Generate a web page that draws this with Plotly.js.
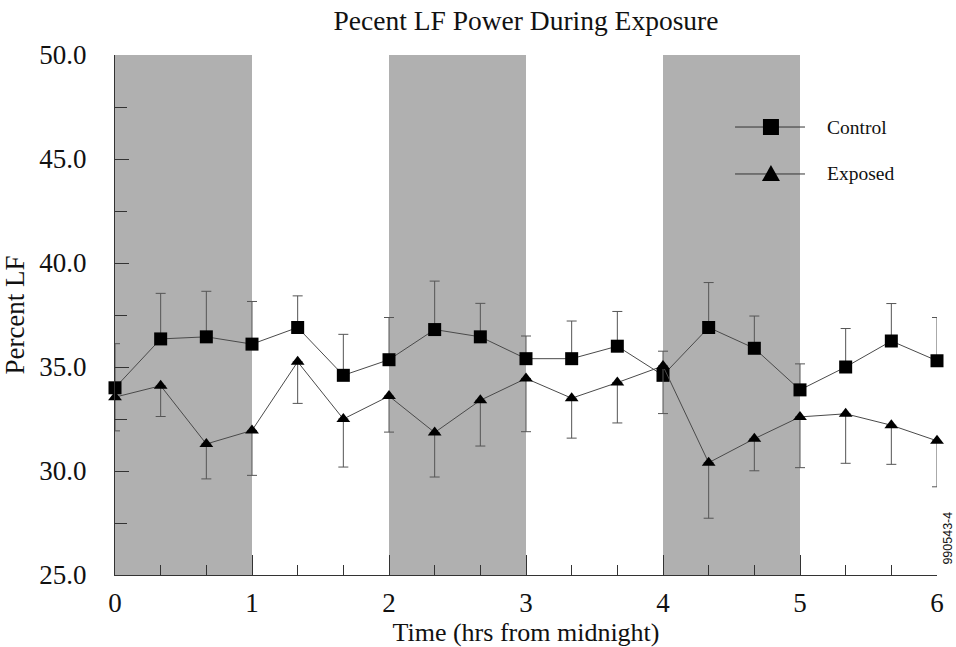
<!DOCTYPE html>
<html>
<head>
<meta charset="utf-8">
<script src="https://cdn.plot.ly/plotly-3.0.1.min.js"></script>
<style>html,body{margin:0;padding:0;background:#fff;}#chart{width:956px;height:647px;}</style>
</head>
<body>
<div id="chart"></div>
<script>
// Data
var timeHrs = [0, 1/3, 2/3, 1, 4/3, 5/3, 2, 7/3, 8/3, 3, 10/3, 11/3, 4, 13/3, 14/3, 5, 16/3, 17/3, 6];
var controlLF = [34.0, 36.35, 36.45, 36.1, 36.9, 34.6, 35.35, 36.8, 36.45, 35.4, 35.4, 36.0, 34.6, 36.9, 35.9, 33.9, 35.0, 36.25, 35.3];
var controlErrUp = [2.12, 2.19, 2.19, 2.05, 1.52, 1.97, 2.03, 2.33, 1.61, 1.09, 1.81, 1.67, 1.16, 2.16, 1.55, 1.25, 1.85, 1.80, 2.08];
var exposedLF = [33.55, 34.1, 31.3, 31.95, 35.25, 32.5, 33.6, 31.85, 33.4, 34.45, 33.5, 34.25, 35.05, 30.4, 31.55, 32.6, 32.75, 32.2, 31.45];
var exposedErrDown = [1.62, 1.48, 1.68, 2.16, 2.0, 2.31, 1.73, 2.14, 2.2, 2.56, 1.92, 1.94, 2.29, 2.67, 1.54, 2.44, 2.38, 1.88, 2.21];
var exposureStart = [0, 2, 4];
var exposureEnd = [1, 3, 5];
var seriesNames = ["Control", "Exposed"];

var zeros = timeHrs.map(function(){return 0;});
var serif = "Liberation Serif, Times New Roman, serif";

var traces = [
  {
    x: timeHrs, y: controlLF, type: "scatter", mode: "lines+markers", name: seriesNames[0],
    line: {color: "#4a4a4a", width: 1},
    marker: {symbol: "square", size: 13, color: "#000"},
    error_y: {type: "data", symmetric: false, array: controlErrUp, arrayminus: zeros, color: "#555", thickness: 1, width: 5},
    cliponaxis: false, showlegend: false
  },
  {
    x: timeHrs, y: exposedLF, type: "scatter", mode: "lines+markers", name: seriesNames[1],
    line: {color: "#4a4a4a", width: 1},
    marker: {symbol: "triangle-up", size: 12, color: "#000"},
    error_y: {type: "data", symmetric: false, array: zeros, arrayminus: exposedErrDown, color: "#555", thickness: 1, width: 5},
    cliponaxis: false, showlegend: false
  }
];

var shapes = [];
for (var i = 0; i < exposureStart.length; i++) {
  shapes.push({type: "rect", xref: "x", yref: "paper", x0: exposureStart[i], x1: exposureEnd[i], y0: 0, y1: 1,
    fillcolor: "#b0b0b0", line: {width: 0}, layer: "below"});
}
// custom legend
var legY = [0.8615, 0.7712];
shapes.push({type: "line", xref: "paper", yref: "paper", x0: 0.7543, x1: 0.8394, y0: legY[0], y1: legY[0], line: {color: "#333", width: 1}});
shapes.push({type: "line", xref: "paper", yref: "paper", x0: 0.7543, x1: 0.8394, y0: legY[1], y1: legY[1], line: {color: "#333", width: 1}});
shapes.push({type: "rect", xref: "paper", yref: "paper", xsizemode: "pixel", ysizemode: "pixel", xanchor: 0.798, yanchor: legY[0],
  x0: -8, x1: 8, y0: -8, y1: 8, fillcolor: "#000", line: {width: 0}});
shapes.push({type: "path", xref: "paper", yref: "paper", xsizemode: "pixel", ysizemode: "pixel", xanchor: 0.798, yanchor: legY[1],
  path: "M -9 -7 L 9 -7 L 0 9 Z", fillcolor: "#000", line: {width: 0}});

var annotations = [
  {xref: "paper", yref: "paper", x: 0.8637, y: legY[0], xanchor: "left", yanchor: "middle", text: seriesNames[0], showarrow: false,
    font: {family: serif, size: 19.5, color: "#111"}},
  {xref: "paper", yref: "paper", x: 0.8637, y: legY[1], xanchor: "left", yanchor: "middle", text: seriesNames[1], showarrow: false,
    font: {family: serif, size: 19.5, color: "#111"}},
  {xref: "paper", yref: "paper", x: 1.0134, y: 0.07, xanchor: "center", yanchor: "middle", text: "990543-4", textangle: -90, showarrow: false,
    font: {family: "Liberation Sans, Arial, sans-serif", size: 12.5, color: "#111"}}
];

var layout = {
  width: 956, height: 647,
  margin: {l: 115, r: 19, t: 55, b: 72},
  paper_bgcolor: "#fff", plot_bgcolor: "#fff",
  font: {family: serif, color: "#111"},
  title: {text: "Pecent LF Power During Exposure", font: {family: serif, size: 27.5, color: "#111"},
    x: 0.5, xref: "paper", y: 1 - 20/647, yref: "container", yanchor: "middle"},
  xaxis: {
    range: [0, 6], tickvals: [0, 1, 2, 3, 4, 5, 6], ticktext: ["0", "1", "2", "3", "4", "5", "6"],
    ticks: "inside", ticklen: 20, tickcolor: "#333", tickwidth: 1,
    minor: {dtick: 1/3, tick0: 0, ticks: "inside", ticklen: 10, tickcolor: "#333", tickwidth: 1, showgrid: false},
    showline: true, linecolor: "#333", linewidth: 1, showgrid: false, zeroline: false, automargin: false,
    tickfont: {family: serif, size: 27, color: "#111"}, ticklabelstandoff: 4,
    title: {text: "Time (hrs from midnight)", font: {family: serif, size: 26, color: "#111"}, standoff: 4}
  },
  yaxis: {
    range: [25, 50], dtick: 5, tick0: 25, tickformat: ".1f",
    ticks: "inside", ticklen: 14, tickcolor: "#333", tickwidth: 1,
    minor: {dtick: 2.5, tick0: 25, ticks: "inside", ticklen: 12, tickcolor: "#333", tickwidth: 1, showgrid: false},
    showline: true, linecolor: "#333", linewidth: 1, showgrid: false, zeroline: false, automargin: false,
    tickfont: {family: serif, size: 27, color: "#111"}, ticklabelstandoff: 22,
    title: {text: "Percent LF", font: {family: serif, size: 27, color: "#111"}, standoff: 10}
  },
  shapes: shapes,
  annotations: annotations,
  showlegend: false
};

Plotly.newPlot("chart", traces, layout, {displayModeBar: false, staticPlot: true});
</script>
</body>
</html>
